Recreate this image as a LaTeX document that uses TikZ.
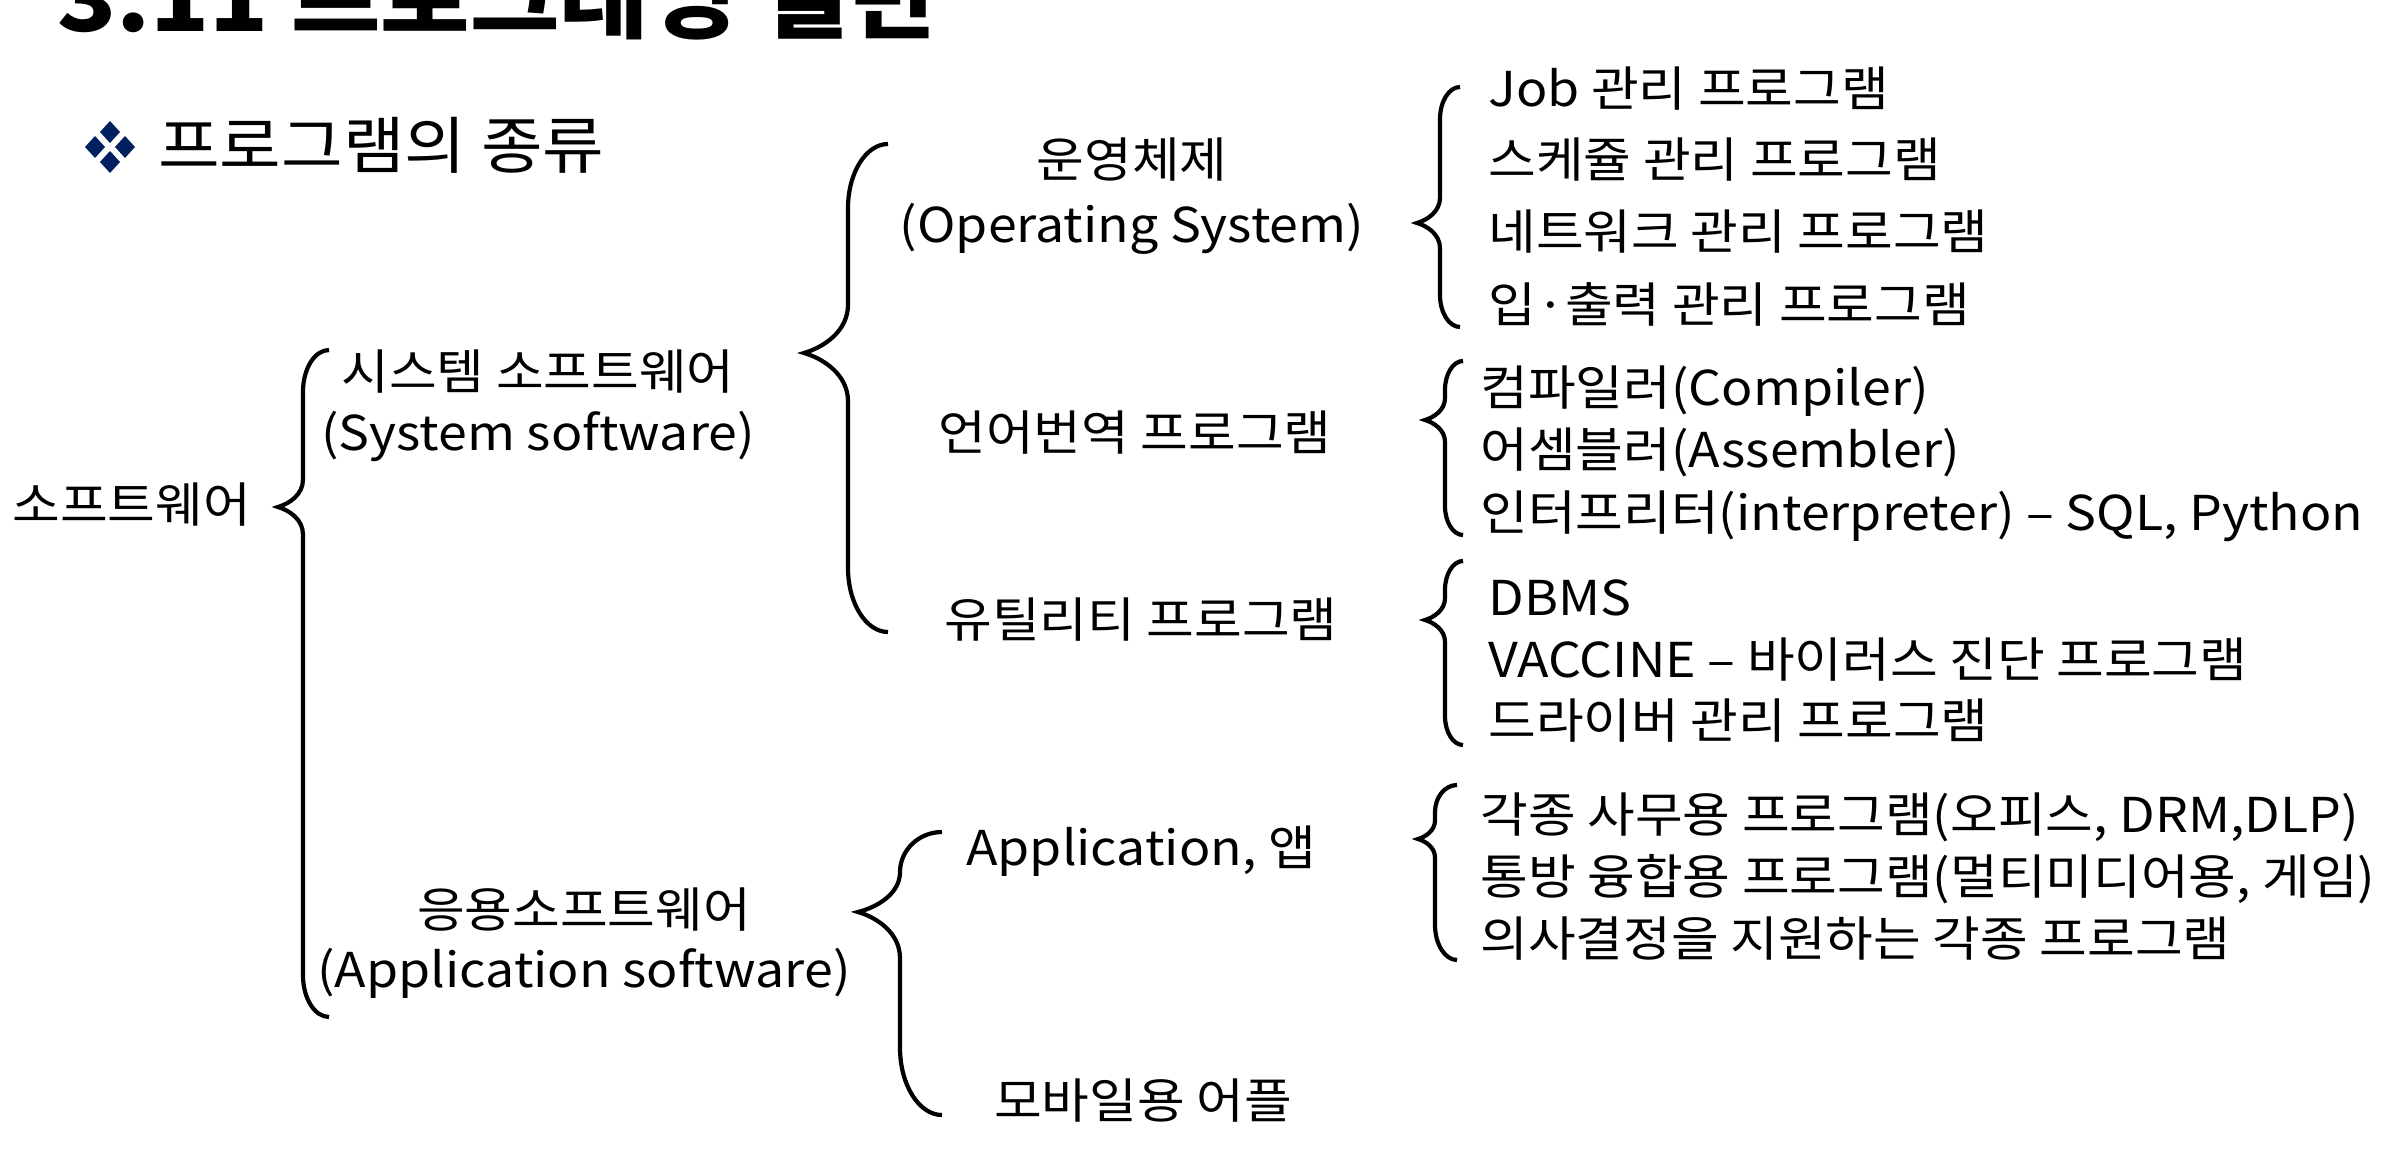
\documentclass[tikz,border=0pt]{standalone}
\usepackage{fontspec}
\setmainfont[FakeStretch=1.08]{Noto Sans CJK KR}
\usetikzlibrary{positioning}
\definecolor{bulletnavy}{RGB}{0,32,96}
\tikzset{every picture/.style={line width=0.75pt}}
\tikzset{
  lbl/.style={inner sep=0pt, font=\fontsize{48}{60}\selectfont},
  brace/.style={line width=4.2pt},
}

% curly brace: end x, line x, tip x, top y, tip y, bottom y
\newcommand{\curlybrace}[6]{%
  \pgfmathsetmacro{\brA}{min(1.6*(#1-#2),(#5-#4)/2)}%
  \pgfmathsetmacro{\brB}{min(1.1*(#2-#3),(#5-#4)/2)}%
  \pgfmathsetmacro{\brC}{min(1.1*(#2-#3),(#6-#5)/2)}%
  \pgfmathsetmacro{\brD}{min(1.6*(#1-#2),(#6-#5)/2)}%
  \pgfmathsetmacro{\brE}{#2+0.45*(#1-#2)}%
  \pgfmathsetmacro{\brF}{#3+0.45*(#2-#3)}%
  \draw[brace] (#1,#4) .. controls (\brE,#4) and (#2,{#4+0.45*\brA}) .. (#2,{#4+\brA})
    -- (#2,{#5-\brB}) .. controls (#2,{#5-0.45*\brB}) and (\brF,{#5-0.12*\brB}) .. (#3,#5)
    .. controls (\brF,{#5+0.12*\brC}) and (#2,{#5+0.45*\brC}) .. (#2,{#5+\brC})
    -- (#2,{#6-\brD}) .. controls (#2,{#6-0.45*\brD}) and (\brE,#6) .. (#1,#6);}

\begin{document}
\begin{tikzpicture}[x=1pt,y=-1pt]
    \useasboundingbox (0,0) rectangle (2408,1150);
    \clip (0,0) rectangle (2408,1150);

    % 제목 (위쪽이 잘려 있음)
    \node[inner sep=0pt, anchor=base west, font=\fontsize{90}{100}\selectfont\bfseries] (title) at (57,32) {3.11 프로그래밍 일반};

    % 글머리표와 소제목
    \foreach \dx/\dy in {0/-15,0/15,-15/0,15/0}
      \fill[bulletnavy] ({110+\dx},{147+\dy-11}) -- ++(10,11) -- ++(-10,11) -- ++(-10,-11) -- cycle;
    \node[inner sep=0pt, anchor=base west, font=\fontsize{62}{70}\selectfont] (kinds) at (158,169) {프로그램의 종류};

    % 1단계
    \node[lbl, anchor=base west] (sw) at (12,522) {소프트웨어};
    \node[lbl, anchor=base] (sys) at (538,389) {시스템 소프트웨어};
    \node[lbl, anchor=base] (sys-en) at (538,450) {(System software)};
    \node[lbl, anchor=base] (appsw) at (584,927) {응용소프트웨어};
    \node[lbl, anchor=base] (appsw-en) at (584,987) {(Application software)};

    % 2단계
    \node[lbl, anchor=base] (os) at (1132,178) {운영체제};
    \node[lbl, anchor=base] (os-en) at (1132,243) {(Operating System)};
    \node[lbl, anchor=base] (trans) at (1135,450) {언어번역 프로그램};
    \node[lbl, anchor=base] (util) at (1141,637) {유틸리티 프로그램};
    \node[lbl, anchor=base] (app) at (1141,865) {Application, 앱};
    \node[lbl, anchor=base] (mobile) at (1143,1118) {모바일용 어플};

    % 3단계 목록
    \node[lbl, anchor=base west] (os1) at (1488,107) {Job 관리 프로그램};
    \node[lbl, anchor=base west] (os2) at (1488,178) {스케쥴 관리 프로그램};
    \node[lbl, anchor=base west] (os3) at (1488,250) {네트워크 관리 프로그램};
    \node[lbl, anchor=base west] (os4) at (1488,322) {입·출력 관리 프로그램};

    \node[lbl, anchor=base west] (tr1) at (1480,405) {컴파일러(Compiler)};
    \node[lbl, anchor=base west] (tr2) at (1480,467) {어셈블러(Assembler)};
    \node[lbl, anchor=base west] (tr3) at (1480,530) {인터프리터(interpreter) – SQL, Python};

    \node[lbl, anchor=base west] (ut1) at (1488,615) {DBMS};
    \node[lbl, anchor=base west] (ut2) at (1488,677) {VACCINE – 바이러스 진단 프로그램};
    \node[lbl, anchor=base west] (ut3) at (1488,738) {드라이버 관리 프로그램};

    \node[lbl, anchor=base west] (ap1) at (1480,832) {각종 사무용 프로그램(오피스, DRM,DLP)};
    \node[lbl, anchor=base west] (ap2) at (1480,894) {통방 융합용 프로그램(멀티미디어용, 게임)};
    \node[lbl, anchor=base west] (ap3) at (1480,956) {의사결정을 지원하는 각종 프로그램};

    % 중괄호
    \curlybrace{329}{303}{278}{350}{507}{1017}
    \curlybrace{888}{848}{804}{144}{353}{632}
    \curlybrace{942}{900}{858}{832}{912}{1115}
    \curlybrace{1460}{1440}{1417}{87}{223}{327}
    \curlybrace{1463}{1445}{1425}{361}{420}{535}
    \curlybrace{1463}{1445}{1425}{561}{620}{745}
    \curlybrace{1457}{1435}{1418}{785}{839}{960}
\end{tikzpicture}
\end{document}
